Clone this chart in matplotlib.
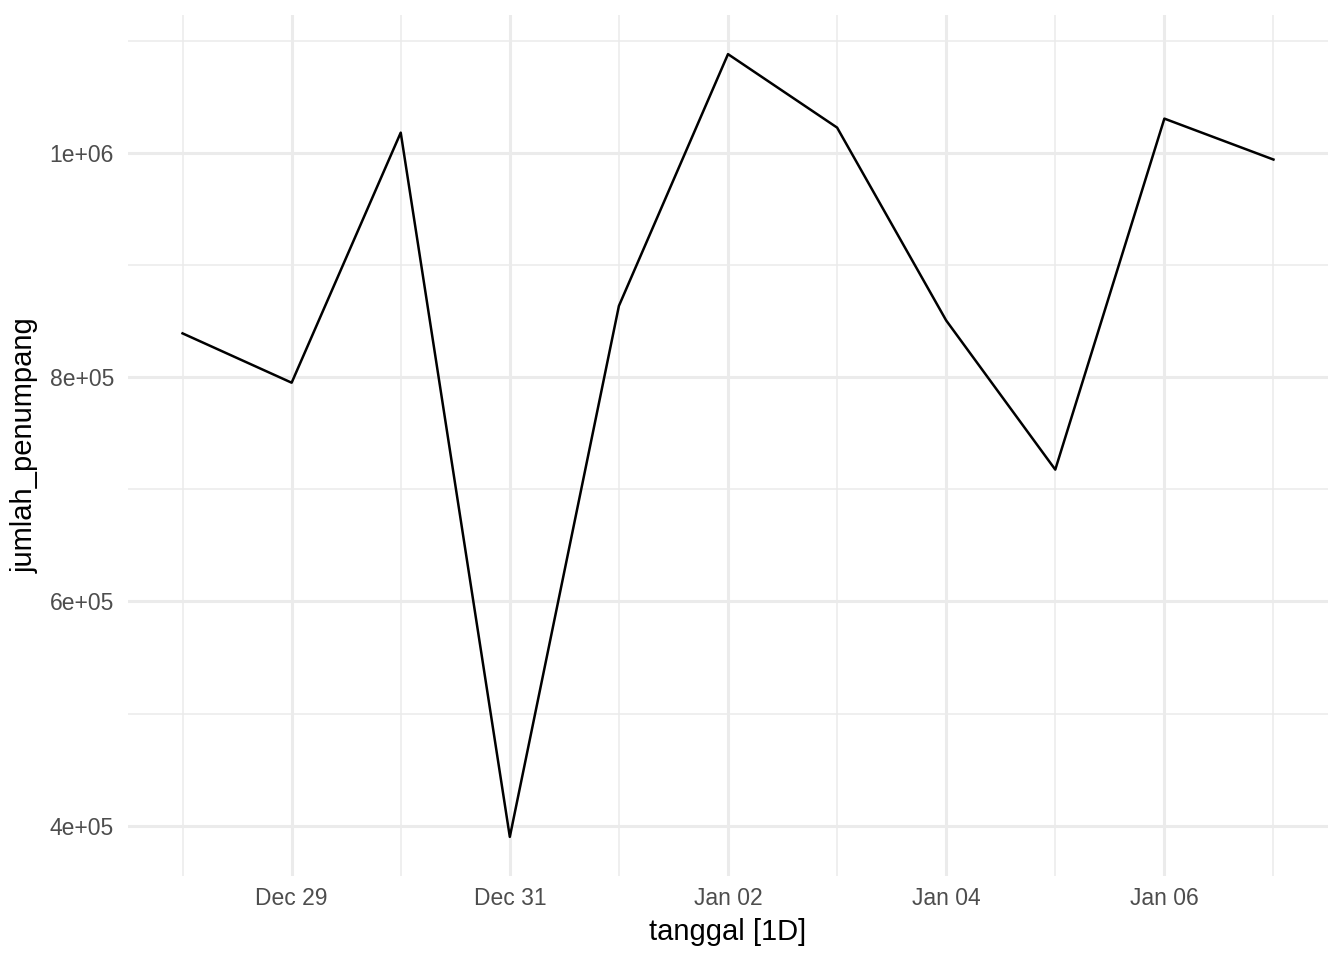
import numpy as np
import pandas as pd
import matplotlib
matplotlib.use("Agg")
import matplotlib.pyplot as plt
import matplotlib.dates as mdates
from matplotlib.ticker import FixedLocator, FuncFormatter

# data
tanggal = pd.date_range("2023-12-28", "2024-01-07", freq="D")
jumlah_penumpang = [839000, 795000, 1018000, 390000, 863500, 1088000,
                    1022500, 850500, 717500, 1030500, 994000]

plt.rcParams['font.family'] = ['Liberation Sans', 'DejaVu Sans']

fig = plt.figure(figsize=(13.44, 9.6), dpi=100)
ax = fig.add_axes([128 / 1344, 1 - 876 / 960, (1328 - 128) / 1344, (876 - 15) / 960])

x = mdates.date2num(tanggal)
ax.plot(x, jumlah_penumpang, color="black", lw=1.8, zorder=3)

# ggplot style limits (5% expansion)
xr = x.max() - x.min()
ax.set_xlim(x.min() - 0.05 * xr, x.max() + 0.05 * xr)
yv = np.array(jumlah_penumpang)
yr = yv.max() - yv.min()
ax.set_ylim(yv.min() - 0.05 * yr, yv.max() + 0.05 * yr)

major_x = mdates.date2num(pd.to_datetime(["2023-12-29", "2023-12-31", "2024-01-02",
                                           "2024-01-04", "2024-01-06"]))
minor_x = mdates.date2num(pd.to_datetime(["2023-12-28", "2023-12-30", "2024-01-01",
                                           "2024-01-03", "2024-01-05", "2024-01-07"]))
ax.xaxis.set_major_locator(FixedLocator(major_x))
ax.xaxis.set_minor_locator(FixedLocator(minor_x))
ax.xaxis.set_major_formatter(FuncFormatter(lambda v, p: mdates.num2date(v).strftime("%b %d")))

major_y = [4e5, 6e5, 8e5, 1e6]
minor_y = [5e5, 7e5, 9e5, 1.1e6]
ylabels = {4e5: "4e+05", 6e5: "6e+05", 8e5: "8e+05", 1e6: "1e+06"}
ax.yaxis.set_major_locator(FixedLocator(major_y))
ax.yaxis.set_minor_locator(FixedLocator(minor_y))
ax.yaxis.set_major_formatter(FuncFormatter(lambda v, p: ylabels.get(round(v), "")))

ax.grid(which="major", color="#EBEBEB", lw=2.2, zorder=0)
ax.grid(which="minor", color="#EBEBEB", lw=1.1, zorder=0)
for s in ax.spines.values():
    s.set_visible(False)
ax.tick_params(which="both", length=0)
ax.tick_params(axis="x", labelsize=16.5, colors="#4D4D4D", pad=8)
ax.tick_params(axis="y", labelsize=16.5, colors="#4D4D4D", pad=10)

ax.set_xlabel("tanggal [1D]", fontsize=21, color="black", labelpad=6)
ax.set_ylabel("jumlah_penumpang", fontsize=21, color="black", labelpad=8)

fig.savefig("out.png", dpi=100)
